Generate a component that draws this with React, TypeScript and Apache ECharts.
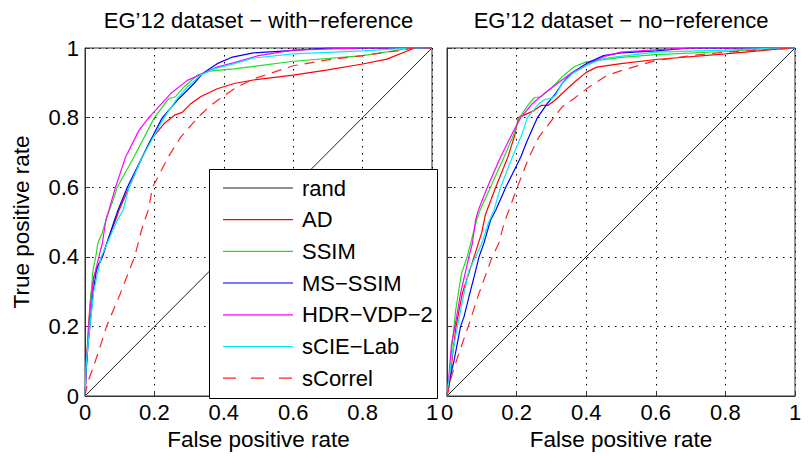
import React, { useEffect, useRef } from "react";
import * as echarts from "echarts";

const FONT = '"Liberation Sans", Arial, Helvetica, sans-serif';

const seriesNames = ["rand", "AD", "SSIM", "MS−SSIM", "HDR−VDP−2", "sCIE−Lab", "sCorrel"];
const seriesColors = ["#222222", "#ff0000", "#22dd22", "#0000ff", "#ff00ff", "#00eeee", "#ff2222"];

const panelTitles = ["EG’12 dataset − with−reference", "EG’12 dataset − no−reference"];
const xTicks = [0, 0.2, 0.4, 0.6, 0.8, 1];
const yTicks = [0, 0.2, 0.4, 0.6, 0.8, 1];

// diagonal
const rand = [[0, 0], [1, 1]];

// ---- with-reference panel ----
const adWith = [[0,0],[0.005,0.1],[0.01,0.2],[0.016,0.28],[0.025,0.34],[0.035,0.37],[0.05,0.4],[0.07,0.46],[0.088,0.505],[0.098,0.534],[0.127,0.6],[0.165,0.687],[0.189,0.735],[0.228,0.783],[0.26,0.808],[0.28,0.815],[0.305,0.84],[0.333,0.86],[0.381,0.883],[0.43,0.898],[0.485,0.908],[0.6,0.922],[0.7,0.937],[0.8,0.954],[0.87,0.968],[0.95,1],[1,1]];
const ssimWith = [[0,0],[0.002,0.055],[0.006,0.13],[0.011,0.2],[0.014,0.247],[0.018,0.3],[0.023,0.362],[0.031,0.4],[0.037,0.439],[0.05,0.47],[0.065,0.52],[0.08,0.56],[0.093,0.6],[0.141,0.687],[0.2,0.8],[0.242,0.855],[0.261,0.86],[0.285,0.888],[0.324,0.922],[0.362,0.934],[0.43,0.94],[0.6,0.962],[0.8,0.978],[0.94,1],[1,1]];
const msssimWith = [[0,0],[0.005,0.1],[0.009,0.15],[0.014,0.2],[0.023,0.295],[0.033,0.362],[0.05,0.4],[0.07,0.46],[0.085,0.505],[0.095,0.534],[0.122,0.6],[0.165,0.687],[0.204,0.764],[0.223,0.8],[0.271,0.855],[0.314,0.898],[0.338,0.926],[0.381,0.955],[0.425,0.974],[0.485,0.986],[0.58,0.992],[0.7,1],[1,1]];
const hdrWith = [[0,0],[0.004,0.1],[0.01,0.18],[0.014,0.247],[0.026,0.343],[0.04,0.4],[0.05,0.439],[0.06,0.505],[0.069,0.534],[0.088,0.6],[0.117,0.687],[0.156,0.764],[0.184,0.8],[0.247,0.869],[0.295,0.907],[0.338,0.926],[0.38,0.945],[0.43,0.958],[0.5,0.978],[0.6,0.994],[0.8,1],[1,1]];
const scieWith = [[0,0],[0.004,0.1],[0.014,0.2],[0.025,0.3],[0.038,0.362],[0.047,0.4],[0.064,0.439],[0.093,0.505],[0.11,0.534],[0.127,0.6],[0.165,0.687],[0.208,0.764],[0.228,0.8],[0.266,0.855],[0.295,0.888],[0.333,0.922],[0.372,0.94],[0.43,0.955],[0.485,0.971],[0.6,0.983],[0.8,0.992],[0.94,1],[1,1]];
const scorrelWith = [[0,0],[0.008,0.04],[0.021,0.075],[0.04,0.13],[0.062,0.2],[0.1,0.29],[0.143,0.4],[0.163,0.477],[0.182,0.534],[0.195,0.6],[0.24,0.687],[0.276,0.744],[0.325,0.8],[0.362,0.835],[0.41,0.869],[0.437,0.887],[0.485,0.911],[0.6,0.949],[0.7,0.966],[0.8,0.978],[0.9,0.992],[0.95,1],[1,1]];

// ---- no-reference panel ----
const adNo = [[0,0],[0.01,0.05],[0.014,0.1],[0.026,0.2],[0.044,0.295],[0.078,0.4],[0.1,0.47],[0.11,0.52],[0.14,0.6],[0.175,0.687],[0.195,0.75],[0.205,0.8],[0.25,0.82],[0.27,0.835],[0.29,0.835],[0.31,0.85],[0.34,0.878],[0.37,0.905],[0.4,0.93],[0.43,0.945],[0.5,0.955],[0.6,0.967],[0.8,0.983],[0.93,0.995],[1,1]];
const ssimNo = [[0,0],[0.006,0.05],[0.015,0.151],[0.025,0.247],[0.037,0.324],[0.042,0.353],[0.058,0.4],[0.068,0.439],[0.085,0.505],[0.095,0.534],[0.125,0.6],[0.164,0.687],[0.193,0.754],[0.208,0.8],[0.236,0.84],[0.25,0.857],[0.27,0.86],[0.303,0.888],[0.331,0.917],[0.365,0.946],[0.4,0.96],[0.5,0.973],[0.6,0.981],[0.8,0.99],[0.95,1],[1,1]];
const msssimNo = [[0,0],[0.008,0.05],[0.02,0.1],[0.039,0.2],[0.049,0.228],[0.063,0.285],[0.078,0.343],[0.092,0.4],[0.106,0.439],[0.125,0.505],[0.14,0.534],[0.169,0.6],[0.212,0.687],[0.231,0.735],[0.26,0.8],[0.288,0.84],[0.312,0.869],[0.331,0.898],[0.355,0.926],[0.4,0.955],[0.45,0.978],[0.5,0.986],[0.6,0.992],[0.7,1],[1,1]];
const hdrNo = [[0,0],[0.005,0.05],[0.013,0.15],[0.023,0.2],[0.039,0.295],[0.063,0.4],[0.073,0.439],[0.082,0.505],[0.09,0.534],[0.116,0.6],[0.154,0.687],[0.178,0.735],[0.197,0.773],[0.212,0.8],[0.245,0.84],[0.279,0.869],[0.317,0.898],[0.355,0.926],[0.4,0.95],[0.45,0.975],[0.5,0.988],[0.6,0.995],[0.7,1],[1,1]];
const scieNo = [[0,0],[0.006,0.05],[0.015,0.12],[0.03,0.2],[0.05,0.3],[0.063,0.36],[0.082,0.4],[0.1,0.439],[0.12,0.5],[0.135,0.534],[0.154,0.6],[0.188,0.687],[0.216,0.754],[0.231,0.8],[0.264,0.84],[0.28,0.852],[0.3,0.855],[0.312,0.864],[0.331,0.898],[0.36,0.926],[0.4,0.95],[0.45,0.97],[0.6,0.988],[0.8,0.994],[0.95,1],[1,1]];
const scorrelNo = [[0,0],[0.006,0.03],[0.017,0.07],[0.034,0.122],[0.061,0.2],[0.092,0.295],[0.13,0.4],[0.149,0.439],[0.165,0.5],[0.178,0.534],[0.202,0.6],[0.236,0.687],[0.264,0.744],[0.307,0.8],[0.331,0.831],[0.365,0.855],[0.408,0.888],[0.458,0.92],[0.506,0.937],[0.6,0.964],[0.7,0.978],[0.8,0.988],[0.93,0.996],[1,1]];

const panelData = [
  [rand, adWith, ssimWith, msssimWith, hdrWith, scieWith, scorrelWith],
  [rand, adNo, ssimNo, msssimNo, hdrNo, scieNo, scorrelNo],
];

const GRIDS = [
  { left: 85, top: 48, width: 347, height: 348 },
  { left: 447, top: 48, width: 348, height: 348 },
];

const fmt = (v: number) => (v === 0 ? "0" : v === 1 ? "1" : v.toFixed(1));

export default function App() {
  const ref = useRef<HTMLDivElement>(null);
  useEffect(() => {
    if (!ref.current) return;
    const chart = echarts.init(ref.current, null, { renderer: "svg" });

    const xAxis = GRIDS.map((_, i) => ({
      type: "value",
      gridIndex: i,
      min: xTicks[0],
      max: xTicks[xTicks.length - 1],
      interval: 0.2,
      name: "False positive rate",
      nameLocation: "middle",
      nameGap: 30,
      nameTextStyle: { fontSize: 22.5, color: "#000", fontFamily: FONT },
      axisLine: { show: true, lineStyle: { color: "#333", width: 1 } },
      axisTick: { show: true, inside: true, length: 5, lineStyle: { color: "#333" } },
      axisLabel: { fontSize: 22, color: "#000", fontFamily: FONT, margin: 5, formatter: fmt },
      splitLine: { show: true, lineStyle: { color: "#000", type: [1.5, 5.5], width: 1 } },
    }));
    const yAxis = GRIDS.map((_, i) => ({
      type: "value",
      gridIndex: i,
      min: yTicks[0],
      max: yTicks[yTicks.length - 1],
      interval: 0.2,
      name: i === 0 ? "True positive rate" : "",
      nameLocation: "middle",
      nameGap: 52,
      nameTextStyle: { fontSize: 22.5, color: "#000", fontFamily: FONT },
      axisLine: { show: true, lineStyle: { color: "#333", width: 1 } },
      axisTick: { show: true, inside: true, length: 5, lineStyle: { color: "#333" } },
      axisLabel: { show: i === 0, fontSize: 22, color: "#000", fontFamily: FONT, margin: 6, formatter: fmt },
      splitLine: { show: true, lineStyle: { color: "#000", type: [1.5, 5.5], width: 1 } },
    }));

    const series: any[] = [];
    panelData.forEach((list, p) => {
      list.forEach((data, k) => {
        series.push({
          type: "line",
          name: seriesNames[k],
          xAxisIndex: p,
          yAxisIndex: p,
          data,
          showSymbol: false,
          symbol: "none",
          smooth: false,
          z: 3 + k,
          lineStyle: {
            color: seriesColors[k],
            width: k === 0 ? 1 : 1.2,
            type: k === 6 ? [10, 7] : "solid",
          },
          itemStyle: { color: seriesColors[k] },
        });
      });
    });

    const LX = 209.5, LY = 169.5, LW = 228, LH = 229;
    const legendEls: any[] = [
      { type: "rect", z: 100, shape: { x: LX, y: LY, width: LW, height: LH }, style: { fill: "#fff", stroke: "#000", lineWidth: 1 } },
    ];
    seriesNames.forEach((nm, k) => {
      const y = 188 + k * 31.7;
      legendEls.push({
        type: "line",
        z: 101,
        shape: { x1: 223, y1: y, x2: 293, y2: y },
        style: {
          stroke: k === 3 ? "#7777ff" : seriesColors[k],
          lineWidth: k === 3 ? 2 : 1.2,
          lineDash: k === 6 ? [13, 15] : null,
        },
      });
      legendEls.push({
        type: "text",
        z: 101,
        x: 302,
        y,
        style: { text: nm, fontSize: 22, fill: "#000", fontFamily: FONT, textVerticalAlign: "middle", textAlign: "left" },
      });
    });

    const titleEls = panelTitles.map((t, i) => ({
      type: "text",
      x: GRIDS[i].left + GRIDS[i].width / 2,
      y: 20,
      style: { text: t, fontSize: 22, fill: "#000", fontFamily: FONT, textAlign: "center", textVerticalAlign: "middle" },
    }));

    chart.setOption({
      animation: false,
      backgroundColor: "#fff",
      textStyle: { fontFamily: FONT },
      grid: GRIDS.map((g) => ({ ...g, show: true, borderColor: "#333", borderWidth: 1, containLabel: false })),
      xAxis,
      yAxis,
      series,
      graphic: [...titleEls, ...legendEls],
    } as any);

    return () => chart.dispose();
  }, []);

  return <div ref={ref} style={{ position: "absolute", left: 0, top: 0, width: 809, height: 456 }} />;
}
